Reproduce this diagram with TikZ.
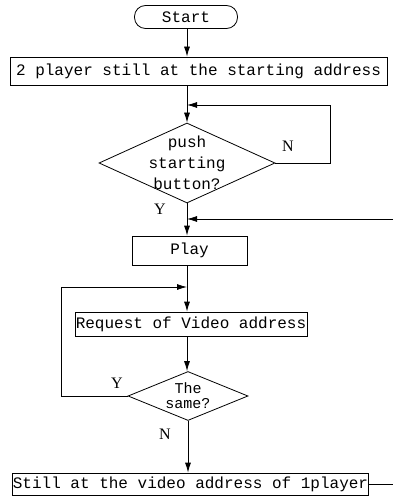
\documentclass[tikz,border=0pt]{standalone}
\usepackage{fontspec}
\setmainfont{Liberation Serif}
\setmonofont{Liberation Mono}
\usetikzlibrary{shapes.geometric,arrows.meta}

\begin{document}
\begin{tikzpicture}[x=1pt, y=-1pt, line width=0.8pt, >={Latex[length=10pt,width=6pt]}]
    \tikzstyle{every node}=[font=\ttfamily\fontsize{16}{21}\selectfont, inner sep=0pt]
    \tikzstyle{box}=[draw, rectangle]
    \tikzstyle{decide}=[draw, diamond, align=center]
    \tikzstyle{yn}=[font=\rmfamily\fontsize{16}{18}\selectfont]
    \useasboundingbox (0,0) rectangle (393,497);
    \node [box, rounded corners=11pt, minimum width=103pt, minimum height=23pt] (start) at (186,17) {Start};
    \node [box, minimum width=377pt, minimum height=28pt] (still) at (198.5,71) {2 player still at the starting address};
    \node [decide, aspect=2.2, inner sep=-5pt, minimum width=176pt, minimum height=80pt] (push) at (187,163) {push\\starting\\button?};
    \node [box, minimum width=115pt, minimum height=29pt] (play) at (189.5,250.5) {Play};
    \node [box, minimum width=232pt, minimum height=24pt] (req) at (191,324) {Request of Video address};
    \node [decide, aspect=2.5, inner sep=-1pt, minimum width=120pt, minimum height=49pt, font=\ttfamily\fontsize{15}{15}\selectfont] (same) at (188,396) {The\\same?};
    \node [box, minimum width=353pt, minimum height=22pt] (last) at (190.5,484) {Still at the video address of 1player};
    % joins and loose ends
    \coordinate (j1) at (187,105);
    \coordinate (n1) at (330,105);
    \coordinate (j2) at (187,219);
    \coordinate (in2) at (393,219);
    \coordinate (j3) at (187,287);
    \coordinate (l3) at (61,287);
    \coordinate (out) at (393,484);
    \node [yn] (nno) at (288,146) {N};
    \node [yn] (nyes) at (160,209) {Y};
    \node [yn] (syes) at (117,383) {Y};
    \node [yn] (sno) at (165,434) {N};
    \draw [->] (start.south -| j1) -- (j1 |- still.north);
    \draw [->] (j1 |- still.south) -- (push.north);
    \draw [->] (push.east) -| (n1) -- (j1);
    \draw [->] (push.south) -- (push.south |- play.north);
    \draw [->] (in2) -- (j2);
    \draw [->] (j1 |- play.south) -- (j1 |- req.north);
    \draw [->] (same.west) -| (l3) -- (j3);
    \draw [->] (j1 |- req.south) -- (j1 |- same.north);
    \draw [->] (same.south) -- (same.south |- last.north);
    \draw (last.east) -- (out);
\end{tikzpicture}
\end{document}
